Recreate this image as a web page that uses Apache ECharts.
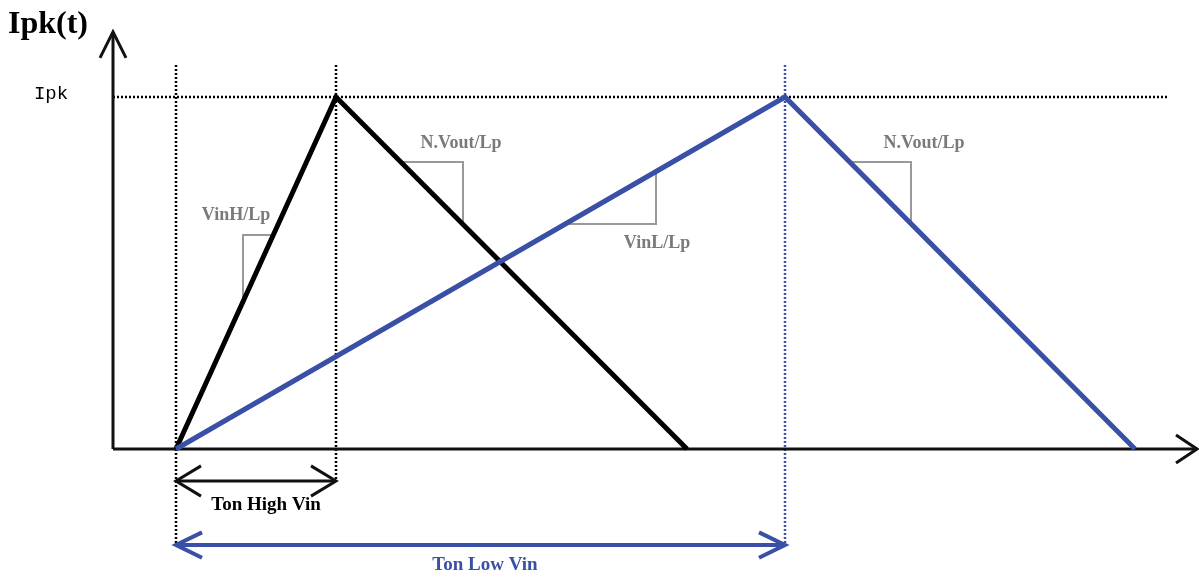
<!DOCTYPE html>
<html>
<head>
<meta charset="utf-8">
<script src="https://cdn.jsdelivr.net/npm/echarts@6/dist/echarts.min.js"></script>
<style>
  html, body { margin: 0; padding: 0; background: #fff; }
  #chart { width: 1199px; height: 577px; }
</style>
</head>
<body>
<div id="chart"></div>
<script>
// time in arbitrary units, current normalised so that Ipk = 1
var highVin = [[6.3, 0], [22.3, 1], [57.4, 0]];   // start, peak, end of discharge
var lowVin  = [[6.3, 0], [67.2, 1], [102.2, 0]];
var peakLevel = 1;
var peakLineEnd = 105.5;
var axisEnds = { x: 108.4, y: 1.185 };
var guideTop = 1.091;
var guideBottoms = [-0.273, -0.091, -0.273];      // at t=6.3, 22.3, 67.2
var tonHighY = -0.091, tonLowY = -0.273;

// slope markers: right-angle corner [t, i]
var slopeCorners = {
  vinH:  [13.0, 0.608],
  voutH: [35.0, 0.815],
  vinL:  [54.3, 0.639],
  voutL: [79.8, 0.815]
};

var SERIF = '"Liberation Serif", "DejaVu Serif", serif';
var labels = [
  { name: 'Ipk(t)',       value: [-6.5, 1.205],  size: 32, bold: true,  family: SERIF, color: '#000' },
  { name: 'Ipk',          value: [-6.2, 1.009],  size: 19, bold: false, family: '"Liberation Mono", monospace', color: '#000' },
  { name: 'VinH/Lp',      value: [12.3, 0.665],  size: 18, bold: true,  family: SERIF, color: '#7a7a7a' },
  { name: 'N.Vout/Lp',    value: [34.8, 0.869],  size: 18, bold: true,  family: SERIF, color: '#7a7a7a' },
  { name: 'VinL/Lp',      value: [54.4, 0.585],  size: 18, bold: true,  family: SERIF, color: '#7a7a7a' },
  { name: 'N.Vout/Lp',    value: [81.1, 0.869],  size: 18, bold: true,  family: SERIF, color: '#7a7a7a' },
  { name: 'Ton High Vin', value: [15.3, -0.159], size: 19, bold: true,  family: SERIF, color: '#000' },
  { name: 'Ton Low Vin',  value: [37.2, -0.330], size: 19, bold: true,  family: SERIF, color: '#3a4fa6' }
];

var BLUE = '#3a4fa6';
var series = [];

function seg(pts, color, width, type, z) {
  series.push({
    type: 'line', data: pts, symbol: 'none', silent: true, z: z || 2,
    lineStyle: { color: color, width: width, type: type || 'solid', cap: 'butt', join: 'miter' }
  });
}
// open chevron arrow head at tip, dir = +1 / -1 along t
function headH(tip, dir, len, half, color, width) {
  seg([[tip[0] - dir * len, tip[1] + half], tip, [tip[0] - dir * len, tip[1] - half]], color, width);
}
// value on a straight line between two points
function tAt(a, b, i) { return a[0] + (i - a[1]) / (b[1] - a[1]) * (b[0] - a[0]); }
function iAt(a, b, t) { return a[1] + (t - a[0]) / (b[0] - a[0]) * (b[1] - a[1]); }
function slope(corner, a, b) {
  var t1 = tAt(a, b, corner[1]);
  var i1 = iAt(a, b, corner[0]);
  seg([[t1, corner[1]], corner, [corner[0], i1]], '#999', 2, 'solid', 1);
}

// guides
var DOT = [2, 2];
seg([[0, peakLevel], [peakLineEnd, peakLevel]], '#000', 2.5, DOT, 1);
seg([[highVin[0][0], guideTop], [highVin[0][0], guideBottoms[0]]], '#000', 2.5, DOT, 1);
seg([[highVin[1][0], guideTop], [highVin[1][0], guideBottoms[1]]], '#000', 2.5, DOT, 1);
seg([[lowVin[1][0], guideTop], [lowVin[1][0], guideBottoms[2]]], BLUE, 2.5, DOT, 1);

// axes
seg([[0, 0], [axisEnds.x, 0]], '#111', 3);
seg([[0, 0], [0, axisEnds.y]], '#111', 3);
headH([axisEnds.x, 0], 1, 2.1, 0.04, '#111', 3);
seg([[-1.3, axisEnds.y - 0.074], [0, axisEnds.y], [1.3, axisEnds.y - 0.074]], '#111', 3);

// slope markers
slope(slopeCorners.vinH, highVin[0], highVin[1]);
slope(slopeCorners.voutH, highVin[1], highVin[2]);
slope(slopeCorners.vinL, lowVin[0], lowVin[1]);
slope(slopeCorners.voutL, lowVin[1], lowVin[2]);

// current waveforms
seg(highVin, '#000', 5, 'solid', 4);
seg(lowVin, BLUE, 5, 'solid', 5);

// on-time spans
seg([[highVin[0][0], tonHighY], [highVin[1][0], tonHighY]], '#111', 3);
headH([highVin[0][0], tonHighY], -1, 2.5, 0.043, '#111', 3);
headH([highVin[1][0], tonHighY], 1, 2.5, 0.043, '#111', 3);
seg([[lowVin[0][0], tonLowY], [lowVin[1][0], tonLowY]], BLUE, 4);
headH([lowVin[0][0], tonLowY], -1, 2.6, 0.036, BLUE, 4);
headH([lowVin[1][0], tonLowY], 1, 2.6, 0.036, BLUE, 4);

series.push({
  type: 'scatter', symbolSize: 0, silent: true, z: 10,
  itemStyle: { color: 'transparent', opacity: 1 },
  data: labels.map(function (l) {
    return {
      name: l.name, value: l.value,
      label: {
        show: true, position: 'inside', formatter: l.name,
        color: l.color, fontSize: l.size, fontFamily: l.family,
        fontWeight: l.bold ? 'bold' : 'normal', align: 'center', verticalAlign: 'middle',
        textBorderWidth: 0, opacity: 1
      }
    };
  })
});

var chart = echarts.init(document.getElementById('chart'));
chart.setOption({
  animation: false,
  backgroundColor: '#fff',
  grid: { left: 0, right: 0, top: 9, bottom: 1.3 },
  xAxis: { type: 'value', min: -11.3, max: 108.6, show: false },
  yAxis: { type: 'value', min: -0.36, max: 1.25, show: false },
  series: series
});
</script>
</body>
</html>
